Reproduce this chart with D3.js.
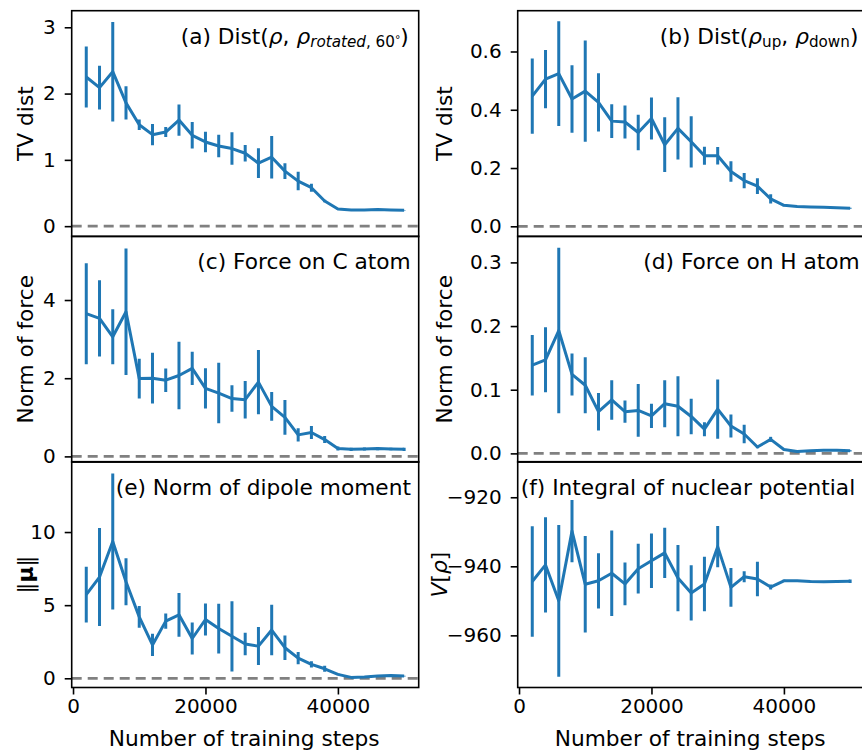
<!DOCTYPE html>
<html>
<head>
<meta charset="utf-8">
<script src="https://cdn.jsdelivr.net/npm/d3@7"></script>
<style>
  body { margin: 0; background: #fff; }
  svg text { font-family: "DejaVu Sans", sans-serif; fill: #000; }
</style>
</head>
<body>
<script>
'use strict';

// training steps (x) shared by all six panels
const steps = [2000, 4000, 6000, 8000, 10000, 12000, 14000, 16000, 18000, 20000,
  22000, 24000, 26000, 28000, 30000, 32000, 34000, 36000, 38000, 40000,
  42000, 44000, 46000, 48000, 50000];

// (a) Dist(rho, rho rotated 60 deg)
const distRotMean = [2.25, 2.09, 2.33, 1.86, 1.53, 1.38, 1.42, 1.60, 1.37, 1.27,
  1.21, 1.17, 1.10, 0.95, 1.04, 0.83, 0.68, 0.58, 0.38, 0.26,
  0.245, 0.245, 0.25, 0.245, 0.24];
const distRotErr = [0.46, 0.33, 0.75, 0.25, 0.08, 0.16, 0.075, 0.235, 0.20, 0.155,
  0.17, 0.245, 0.125, 0.225, 0.32, 0.12, 0.14, 0.06, 0.02, 0.01,
  0.01, 0.005, 0.005, 0.005, 0.005];

// (b) Dist(rho up, rho down)
const distSpinMean = [0.447, 0.505, 0.524, 0.437, 0.464, 0.425, 0.361, 0.358, 0.322, 0.370,
  0.280, 0.336, 0.290, 0.242, 0.242, 0.188, 0.157, 0.138, 0.094, 0.072,
  0.068, 0.066, 0.065, 0.064, 0.062];
const distSpinErr = [0.129, 0.100, 0.180, 0.116, 0.174, 0.100, 0.058, 0.057, 0.061, 0.072,
  0.094, 0.107, 0.088, 0.031, 0.030, 0.035, 0.026, 0.027, 0.016, 0.003,
  0.002, 0.002, 0.002, 0.002, 0.002];

// (c) force on C atom
const forceCMean = [3.65, 3.53, 3.06, 3.70, 1.99, 2.00, 1.95, 2.07, 2.25, 1.74,
  1.62, 1.48, 1.45, 1.90, 1.28, 1.00, 0.55, 0.61, 0.43, 0.20,
  0.18, 0.19, 0.20, 0.19, 0.18];
const forceCErr = [1.29, 0.975, 0.705, 1.615, 0.51, 0.65, 0.30, 0.865, 0.425, 0.515,
  0.775, 0.34, 0.48, 0.82, 0.37, 0.445, 0.17, 0.165, 0.09, 0.05,
  0.04, 0.04, 0.04, 0.03, 0.04];

// (d) force on H atom
const forceHMean = [0.1385, 0.147, 0.193, 0.124, 0.107, 0.0655, 0.084, 0.0655, 0.0675, 0.059,
  0.078, 0.074, 0.058, 0.038, 0.0695, 0.043, 0.0305, 0.010, 0.022, 0.006,
  0.003, 0.004, 0.005, 0.005, 0.004];
const forceHErr = [0.0475, 0.051, 0.13, 0.033, 0.044, 0.0295, 0.031, 0.0175, 0.0415, 0.019,
  0.037, 0.047, 0.028, 0.011, 0.0465, 0.018, 0.0145, 0.002, 0.004, 0.001,
  0.001, 0.001, 0.001, 0.001, 0.001];

// (e) norm of dipole moment
const dipoleMean = [5.72, 6.92, 9.35, 6.60, 4.20, 2.28, 3.91, 4.34, 2.72, 4.02,
  3.40, 2.87, 2.34, 2.20, 3.30, 2.09, 1.38, 0.95, 0.65, 0.27,
  0.06, 0.09, 0.16, 0.19, 0.15];
const dipoleErr = [1.9, 3.35, 4.65, 1.6, 0.74, 0.76, 0.52, 1.5, 1.09, 1.09,
  1.7, 2.4, 0.77, 1.3, 1.73, 0.84, 0.42, 0.22, 0.2, 0.05,
  0.03, 0.03, 0.03, 0.03, 0.03];

// (f) integral of nuclear potential
const nucPotMean = [-944.4, -939.6, -950.0, -929.8, -945.2, -944.2, -942.0, -945.1, -940.7, -938.4,
  -936.1, -943.4, -947.7, -945.1, -934.3, -946.1, -943.0, -943.7, -946.0, -944.2,
  -944.2, -944.4, -944.5, -944.4, -944.3];
const nucPotErr = [16.0, 13.8, 22.0, 9.0, 14.0, 8.0, 12.4, 6.2, 7.2, 7.9,
  7.3, 9.6, 8.0, 7.9, 6.0, 5.6, 1.6, 5.0, 0.7, 0.3,
  0.2, 0.2, 0.2, 0.2, 0.5];

// axis ranges and ticks
const xDomain = [-200, 52200];
const xTicks = [0, 20000, 40000];
const yDomains = {
  a: [-0.156, 3.25], b: [-0.035, 0.74], c: [-0.146, 5.63],
  d: [-0.0137, 0.341], e: [-0.63, 14.81], f: [-975.1, -909.7]
};
const yTicks = {
  a: [0, 1, 2, 3], b: [0, 0.2, 0.4, 0.6], c: [0, 2, 4],
  d: [0, 0.1, 0.2, 0.3], e: [0, 5, 10], f: [-960, -940, -920]
};

(function() {

  const W = 862, H = 750;
  const colX = [71.7, 517.7];
  const rowY = [10.7, 236.3, 461.7];
  const pw = 347, ph = 225.8;
  const blue = "#1f77b4";

  let svg = d3.select("body").append("svg")
    .attr("width", W)
    .attr("height", H);

  const panels = [
    {id: "a", col: 0, row: 0, mean: distRotMean, err: distRotErr, fmt: d3.format("d"),
      ylabel: [{t: "TV dist"}], ylx: 33, noteX: 109, hline: true,
      note: [{t: "(a) Dist("}, {t: "ρ", i: true}, {t: ", "}, {t: "ρ", i: true},
        {t: "rotated", i: true, s: 1}, {t: ", 60", s: 1}, {t: "°", s: 2}, {t: ")"}]},
    {id: "b", col: 1, row: 0, mean: distSpinMean, err: distSpinErr, fmt: d3.format(".1f"),
      ylabel: [{t: "TV dist"}], ylx: 451.5, noteX: 142, hline: true,
      note: [{t: "(b) Dist("}, {t: "ρ", i: true}, {t: "up", s: 1}, {t: ", "}, {t: "ρ", i: true},
        {t: "down", s: 1}, {t: ")"}]},
    {id: "c", col: 0, row: 1, mean: forceCMean, err: forceCErr, fmt: d3.format("d"),
      ylabel: [{t: "Norm of force"}], ylx: 33, noteX: 125.6, hline: true,
      note: [{t: "(c) Force on C atom"}]},
    {id: "d", col: 1, row: 1, mean: forceHMean, err: forceHErr, fmt: d3.format(".1f"),
      ylabel: [{t: "Norm of force"}], ylx: 451.5, noteX: 125.6, hline: true,
      note: [{t: "(d) Force on H atom"}]},
    {id: "e", col: 0, row: 2, mean: dipoleMean, err: dipoleErr, fmt: d3.format("d"),
      ylabel: [{t: "‖"}, {t: "μ", b: true}, {t: "‖"}], ylx: 33, noteX: 44, hline: true,
      note: [{t: "(e) Norm of dipole moment"}]},
    {id: "f", col: 1, row: 2, mean: nucPotMean, err: nucPotErr, fmt: d3.format("d"),
      ylabel: [{t: "V", i: true}, {t: "["}, {t: "ρ", i: true}, {t: "]"}], ylx: 447, noteX: 3, hline: false,
      note: [{t: "(f) Integral of nuclear potential"}]}
  ];

  panels.forEach(drawPanel);

  // write a run of text pieces (italic, bold, sub/superscript) into a text node
  function richText(node, parts, size) {
    let shift = 0;
    parts.forEach(function(p) {
      let level = p.s || 0;
      let target = level === 0 ? 0 : (level === 1 ? 0.16 * size : -0.05 * size);
      let fs = level === 0 ? size : (level === 1 ? size * 0.7 : size * 0.5);
      node.append("tspan")
        .attr("dy", (target - shift).toFixed(2))
        .style("font-size", fs + "px")
        .style("font-style", p.i ? "italic" : "normal")
        .style("font-weight", p.b ? "bold" : "normal")
        .text(p.t);
      shift = target;
    });
  }

  function drawPanel(p) {
    let x0 = colX[p.col], y0 = rowY[p.row];
    let g = svg.append("g").attr("transform", "translate(" + x0 + "," + y0 + ")");

    let x = d3.scaleLinear().domain(xDomain).range([0, pw]);
    let y = d3.scaleLinear().domain(yDomains[p.id]).range([ph, 0]);

    g.append("clipPath").attr("id", "clip-" + p.id)
      .append("rect").attr("width", pw).attr("height", ph);

    let plot = g.append("g").attr("clip-path", "url(#clip-" + p.id + ")");

    if (p.hline) {
      plot.append("line")
        .attr("x1", 0).attr("x2", pw)
        .attr("y1", y(0)).attr("y2", y(0))
        .attr("stroke", "#808080")
        .attr("stroke-width", 2.8)
        .attr("stroke-dasharray", "10,6");
    }

    let rows = steps.map((s, i) => ({s: s, m: p.mean[i], e: p.err[i]}));

    plot.selectAll(".ebar")
      .data(rows)
      .enter()
      .append("line")
      .attr("class", "ebar")
      .attr("x1", d => x(d.s)).attr("x2", d => x(d.s))
      .attr("y1", d => y(d.m - d.e)).attr("y2", d => y(d.m + d.e))
      .attr("stroke", blue)
      .attr("stroke-width", 3);

    let line = d3.line().x(d => x(d.s)).y(d => y(d.m));
    plot.append("path")
      .datum(rows)
      .attr("fill", "none")
      .attr("stroke", blue)
      .attr("stroke-width", 3)
      .attr("stroke-linejoin", "round")
      .attr("d", line);

    // y axis
    let yAxis = g.append("g")
      .call(d3.axisLeft(y).tickValues(yTicks[p.id]).tickFormat(p.fmt)
        .tickSize(7).tickPadding(9));
    yAxis.select(".domain").remove();
    yAxis.selectAll("line").attr("stroke", "#000").attr("stroke-width", 1.6);
    yAxis.selectAll("text").style("font-size", "20px").attr("fill", "#000");

    // x axis only on the bottom row
    if (p.row === 2) {
      let xAxis = g.append("g")
        .attr("transform", "translate(0," + ph + ")")
        .call(d3.axisBottom(x).tickValues(xTicks).tickFormat(d3.format("d"))
          .tickSize(7).tickPadding(4));
      xAxis.select(".domain").remove();
      xAxis.selectAll("line").attr("stroke", "#000").attr("stroke-width", 1.6);
      xAxis.selectAll("text").style("font-size", "20px").attr("fill", "#000");

      g.append("text")
        .attr("x", pw / 2 - 1)
        .attr("y", 746 - y0)
        .attr("text-anchor", "middle")
        .style("font-size", "21.7px")
        .text("Number of training steps");
    }

    // frame
    g.append("rect")
      .attr("width", pw).attr("height", ph)
      .attr("fill", "none")
      .attr("stroke", "#000")
      .attr("stroke-width", 1.6);

    // y label
    let yl = svg.append("text")
      .attr("transform", "translate(" + p.ylx + "," + (y0 + ph / 2) + ")rotate(-90)")
      .attr("text-anchor", "middle")
      .style("font-size", "21.7px");
    richText(yl, p.ylabel, 21.7);

    // panel title inside the axes
    let note = g.append("text")
      .attr("x", p.noteX)
      .attr("y", 33)
      .style("font-size", "21.7px");
    richText(note, p.note, 21.7);
  }
})();
</script>
</body>
</html>
